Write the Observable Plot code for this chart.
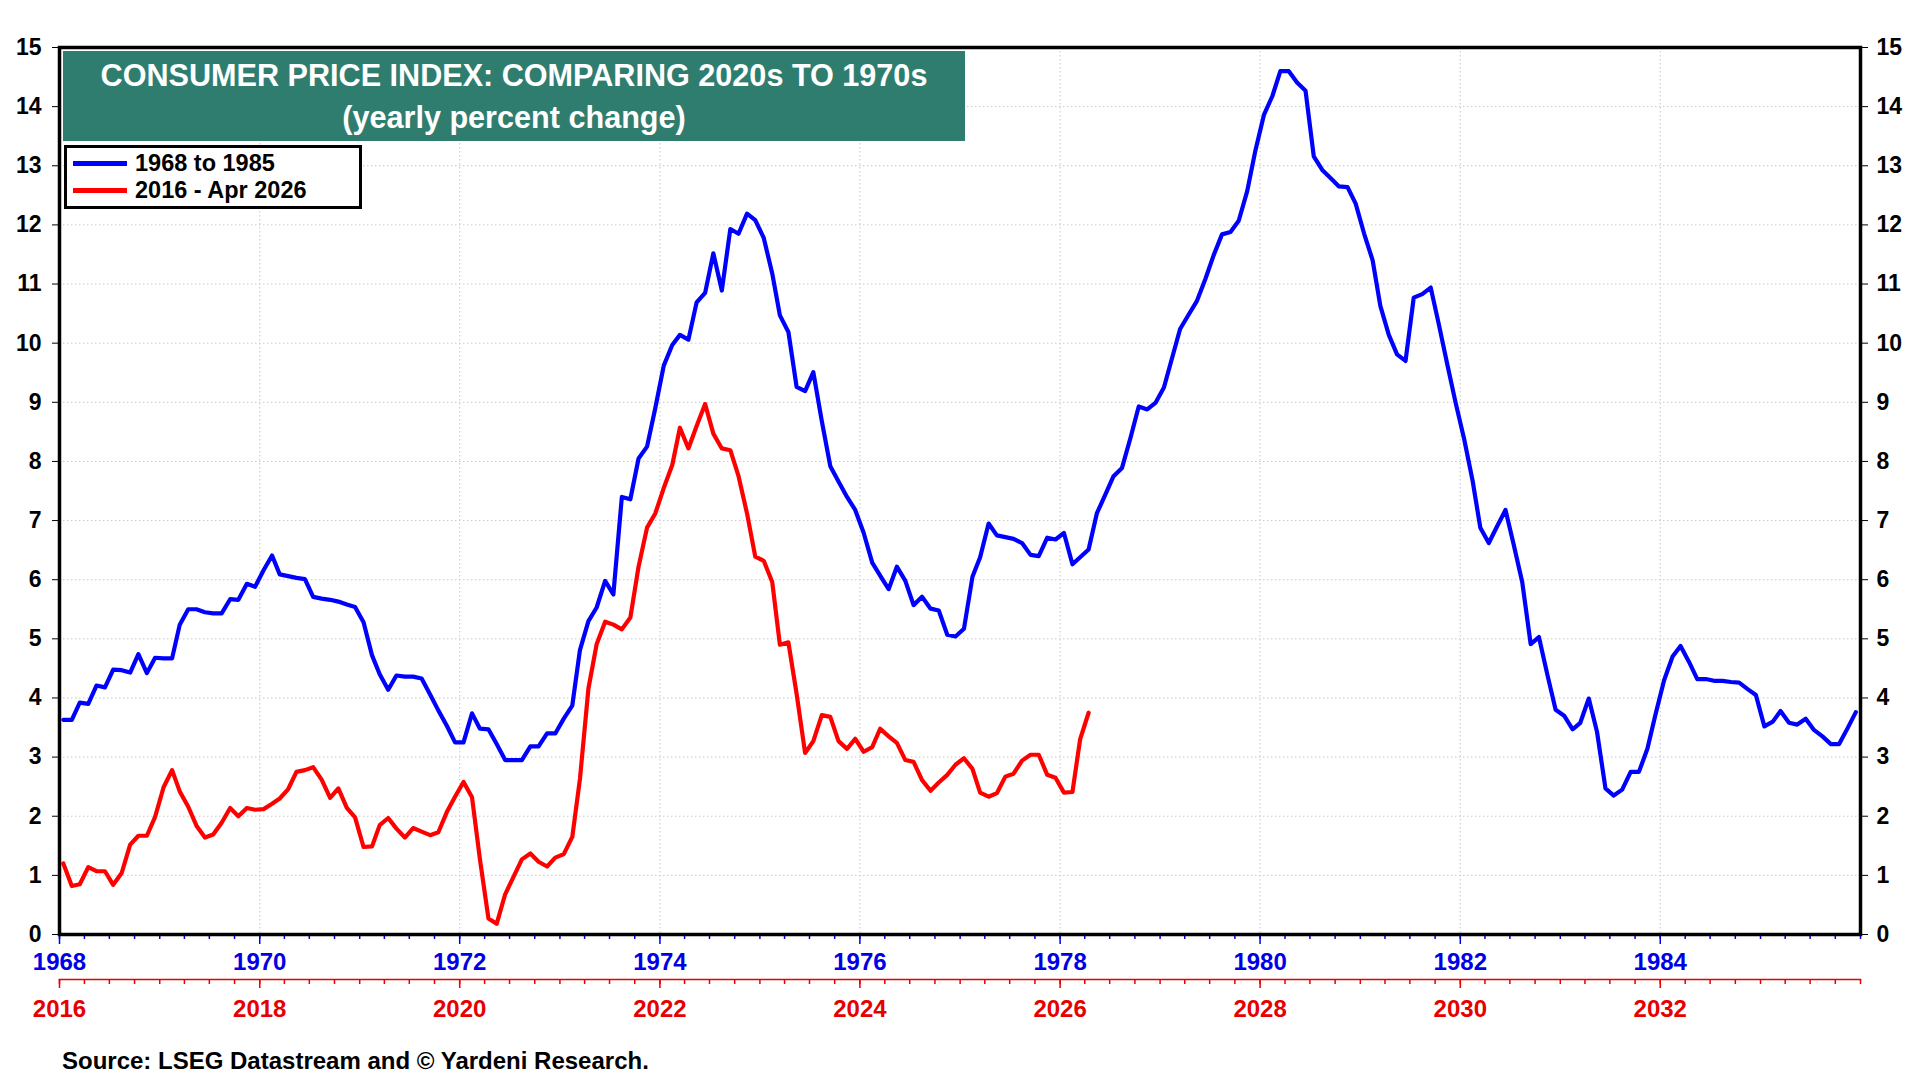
<!DOCTYPE html>
<html>
<head>
<meta charset="utf-8">
<script src="https://cdn.jsdelivr.net/npm/d3@7"></script>
<script src="https://cdn.jsdelivr.net/npm/@observablehq/plot@0.6"></script>
<style>
  html, body { margin: 0; padding: 0; background: #fff; }
  #wrap { position: relative; width: 1920px; height: 1080px; overflow: hidden;
          font-family: "Liberation Sans", Arial, Helvetica, sans-serif; font-weight: bold; }
  #main { position: absolute; left: 0; top: 0; }
  #redaxis { position: absolute; left: 0; top: 960px; }
  #title { position: absolute; left: 63px; top: 51px; width: 902px; height: 90px;
           background: #2f7d6f; color: #fff; text-align: center; font-size: 30.6px;
           line-height: 42px; padding-top: 3px; box-sizing: border-box; white-space: nowrap; }
  #legend { position: absolute; left: 64px; top: 145px; width: 298px; height: 64px;
            border: 3px solid #000; background: #fff; box-sizing: border-box; }
  .item { position: absolute; left: 6px; height: 26px; font-size: 23.5px; line-height: 26px; color: #000; }
  .swatch { position: absolute; left: 0; top: 11px; width: 54px; height: 5px; }
  .label { position: absolute; left: 62px; top: 0; white-space: nowrap; }
  #source { position: absolute; left: 62px; top: 1047px; font-size: 24px; line-height: 28px; color: #000; white-space: nowrap; }
</style>
</head>
<body>
<div id="wrap">
  <div id="main"></div>
  <div id="redaxis"></div>
  <div id="title"><div>CONSUMER PRICE INDEX: COMPARING 2020s TO 1970s</div><div>(yearly percent change)</div></div>
  <div id="legend"></div>
  <div id="source">Source: LSEG Datastream and © Yardeni Research.</div>
</div>
<script>
// ---------------- DATA ----------------
// Monthly CPI yearly % change, Jan 1968 .. Dec 1985
const blueValues = [
  3.63,3.63,3.92,3.90,4.21,4.18,4.48,4.47,4.43,4.74,4.42,4.68,   // 1968
  4.67,4.67,5.24,5.50,5.50,5.45,5.43,5.43,5.67,5.66,5.93,5.88,   // 1969
  6.16,6.41,6.09,6.06,6.03,6.01,5.71,5.68,5.66,5.63,5.58,5.54,   // 1970
  5.28,4.72,4.40,4.14,4.38,4.36,4.36,4.33,4.06,3.79,3.53,3.25,   // 1971
  3.25,3.74,3.48,3.47,3.22,2.95,2.95,2.95,3.18,3.18,3.40,3.40,   // 1972
  3.65,3.87,4.81,5.30,5.53,5.98,5.75,7.40,7.36,8.05,8.25,8.90,   // 1973
  9.62,9.97,10.14,10.06,10.69,10.85,11.52,10.89,11.93,11.85,12.19,12.08, // 1974
  11.78,11.18,10.47,10.19,9.26,9.19,9.51,8.68,7.92,7.66,7.40,7.18,       // 1975
  6.79,6.29,6.07,5.84,6.22,5.98,5.57,5.71,5.51,5.48,5.07,5.04,   // 1976
  5.17,6.05,6.38,6.95,6.75,6.72,6.69,6.62,6.42,6.40,6.71,6.68,   // 1977
  6.79,6.26,6.38,6.51,7.12,7.44,7.75,7.89,8.40,8.93,8.88,8.99,   // 1978
  9.25,9.77,10.24,10.48,10.71,11.08,11.48,11.84,11.88,12.07,12.57,13.26, // 1979
  13.86,14.18,14.60,14.60,14.41,14.27,13.16,12.93,12.79,12.65,12.64,12.36, // 1980
  11.85,11.40,10.63,10.14,9.81,9.70,10.77,10.83,10.94,10.31,9.63,8.99,   // 1981
  8.38,7.67,6.88,6.62,6.90,7.18,6.59,5.96,4.91,5.03,4.39,3.80,   // 1982
  3.70,3.47,3.58,3.99,3.43,2.47,2.35,2.45,2.75,2.75,3.14,3.73,   // 1983
  4.30,4.70,4.88,4.61,4.32,4.32,4.29,4.29,4.27,4.26,4.15,4.05,   // 1984
  3.52,3.60,3.78,3.58,3.55,3.65,3.46,3.35,3.22,3.22,3.49,3.76    // 1985
];
// Monthly CPI yearly % change, Jan 2016 .. Apr 2026
const redValues = [
  1.20,0.82,0.85,1.14,1.07,1.07,0.84,1.04,1.52,1.67,1.67,1.99,   // 2016
  2.49,2.78,2.42,2.16,1.84,1.64,1.69,1.89,2.14,2.00,2.14,2.11,   // 2017
  2.12,2.21,2.30,2.46,2.75,2.78,2.83,2.62,2.31,2.47,2.14,1.98,   // 2018
  1.48,1.49,1.85,1.97,1.79,1.64,1.80,1.74,1.68,1.73,2.07,2.33,   // 2019
  2.58,2.32,1.27,0.27,0.18,0.68,0.97,1.27,1.37,1.23,1.15,1.30,   // 2020
  1.36,1.65,2.63,4.16,4.91,5.29,5.24,5.16,5.36,6.22,6.88,7.12,   // 2021
  7.55,7.94,8.57,8.22,8.60,8.97,8.47,8.22,8.19,7.75,7.12,6.39,   // 2022
  6.32,5.96,4.90,4.94,4.07,3.07,3.27,3.71,3.68,3.27,3.14,3.31,   // 2023
  3.09,3.17,3.48,3.35,3.24,2.95,2.92,2.61,2.43,2.57,2.70,2.87,   // 2024
  2.98,2.80,2.40,2.33,2.39,2.67,2.72,2.94,3.04,3.04,2.70,2.65,   // 2025
  2.40,2.41,3.30,3.75                                            // 2026
];
const blueStartYear = 1968;
const redStartYear = 2016;
const axisYears = 18;
const blueTickYears = [1968, 1970, 1972, 1974, 1976, 1978, 1980, 1982, 1984];
const redTickYears  = [2016, 2018, 2020, 2022, 2024, 2026, 2028, 2030, 2032];
const yTicks = [0,1,2,3,4,5,6,7,8,9,10,11,12,13,14,15];
const yGrid  = [1,2,3,4,5,6,7,8,9,10,11,12,13,14];
const seriesNames = ["1968 to 1985", "2016 - Apr 2026"];
const seriesColors = ["#0000ff", "#ff0000"];

// ---------------- BUILD ----------------
const utc = (y, m = 0, d = 1) => new Date(Date.UTC(y, m, d));
// both series plotted on the same month-of-cycle axis (1968 frame)
const blue = blueValues.map((v, i) => ({date: utc(blueStartYear, i, 15), value: v}));
const red  = redValues.map((v, i)  => ({date: utc(blueStartYear, i, 15), value: v}));

const blueDomain = [utc(blueStartYear), utc(blueStartYear + axisYears)];
const redDomain  = [utc(redStartYear),  utc(redStartYear + axisYears)];
const blueMajor = blueTickYears.map(y => utc(y));
const redMajor  = redTickYears.map(y => utc(y));
const blueMinor = d3.utcMonth.every(3).range(blueDomain[0], d3.utcDay.offset(blueDomain[1], 1));
const redMinor  = d3.utcMonth.every(3).range(redDomain[0], d3.utcDay.offset(redDomain[1], 1));
const gridXDates = blueMajor.slice(1);

const font = '"Liberation Sans", Arial, Helvetica, sans-serif';
const blueAxis = "#0000e6";
const redAxis = "#e60000";

const main = Plot.plot({
  width: 1920, height: 1080,
  marginLeft: 59, marginRight: 60, marginTop: 47, marginBottom: 146,
  style: {fontFamily: font, fontSize: "23px", fontWeight: "bold", background: "transparent", color: "#000"},
  x: {type: "utc", domain: blueDomain, label: null},
  y: {domain: [0, 15], label: null},
  marks: [
    Plot.gridY(yGrid, {stroke: "#c9c9c9", strokeOpacity: 1, strokeWidth: 1, strokeDasharray: "1.5,2.5"}),
    Plot.gridX(gridXDates, {stroke: "#c9c9c9", strokeOpacity: 1, strokeWidth: 1, strokeDasharray: "1.5,2.5"}),
    Plot.axisY(yTicks, {anchor: "left", tickSize: 7, tickPadding: 11, label: null, fontSize: 23, tickFormat: d => String(d)}),
    Plot.axisY(yTicks, {anchor: "right", tickSize: 7, tickPadding: 9, label: null, fontSize: 23, tickFormat: d => String(d)}),
    Plot.axisX(blueMinor, {anchor: "bottom", tickSize: 5, color: blueAxis, strokeWidth: 1.5, tickFormat: () => "", label: null}),
    Plot.axisX(blueMajor, {anchor: "bottom", tickSize: 10, tickPadding: 8, color: blueAxis, strokeWidth: 1.5, fontSize: 24,
                           tickFormat: d => String(d.getUTCFullYear()), label: null}),
    Plot.line(blue, {x: "date", y: "value", stroke: seriesColors[0], strokeWidth: 4.2}),
    Plot.line(red,  {x: "date", y: "value", stroke: seriesColors[1], strokeWidth: 4.2}),
    Plot.frame({stroke: "#000", strokeWidth: 3.5})
  ]
});
document.getElementById("main").appendChild(main);

const redPlot = Plot.plot({
  width: 1920, height: 70,
  marginLeft: 59, marginRight: 60, marginTop: 18, marginBottom: 51,
  style: {fontFamily: font, fontSize: "24px", fontWeight: "bold", background: "transparent", overflow: "visible"},
  x: {type: "utc", domain: redDomain, label: null},
  marks: [
    Plot.axisX(redMinor, {anchor: "bottom", tickSize: 5, color: redAxis, strokeWidth: 1.5, tickFormat: () => "", label: null}),
    Plot.axisX(redMajor, {anchor: "bottom", tickSize: 9, tickPadding: 11, color: redAxis, strokeWidth: 1.5, fontSize: 24,
                          tickFormat: d => String(d.getUTCFullYear()), label: null}),
    Plot.frame({anchor: "bottom", stroke: redAxis, strokeWidth: 1.5})
  ]
});
document.getElementById("redaxis").appendChild(redPlot);

// legend
const legend = document.getElementById("legend");
seriesNames.forEach((name, i) => {
  const item = document.createElement("div");
  item.className = "item";
  item.style.top = (i * 27 + 2) + "px";
  const sw = document.createElement("div");
  sw.className = "swatch";
  sw.style.background = seriesColors[i];
  const lb = document.createElement("div");
  lb.className = "label";
  lb.textContent = name;
  item.appendChild(sw); item.appendChild(lb);
  legend.appendChild(item);
});
</script>
</body>
</html>
